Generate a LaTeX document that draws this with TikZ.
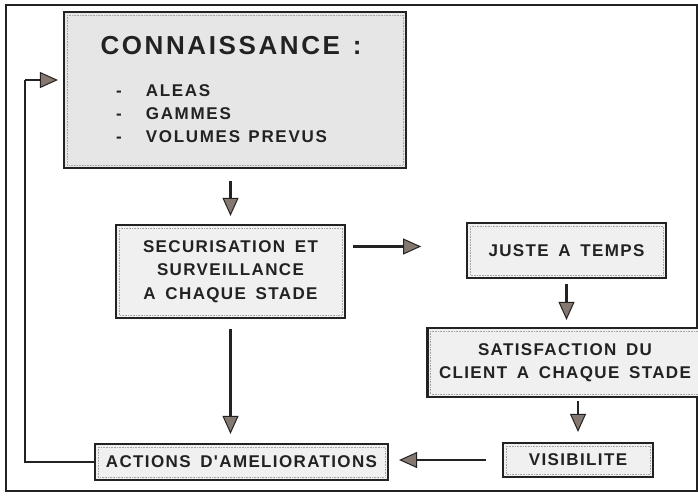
\documentclass[tikz,border=0pt]{standalone}
\usepackage{fontspec}
\usetikzlibrary{arrows.meta,calc}
\newfontfamily\dfont{Liberation Sans}[LetterSpace=8.0,WordSpace=1.6]
\newfontfamily\tfont{Liberation Sans}[LetterSpace=10.0,WordSpace=1.3]
\definecolor{ink}{HTML}{222222}
\definecolor{boxfill}{HTML}{F0F0F0}
\definecolor{connfill}{HTML}{E6E6E6}
\definecolor{headfill}{HTML}{857870}
\tikzset{
  box/.style={draw=ink, line width=2.2pt, fill=boxfill, inner sep=0pt,
    align=center, text=ink, font=\dfont\bfseries\fontsize{17}{23.5}\selectfont,
    path picture={\draw[densely dotted, gray!70, line width=0.6pt]
      ([shift={(3pt,-3pt)}]path picture bounding box.north west) rectangle
      ([shift={(-3pt,3pt)}]path picture bounding box.south east);}},
  arr/.style={draw=ink, line width=2.4pt,
    -{Triangle[length=18pt,width=16pt,fill=headfill,line width=1pt]}},
  fline/.style={draw=ink, line width=1.8pt},
  frame/.style={draw=ink, line width=1.6pt},
  label/.style={inner sep=0pt, text=ink}
}
\begin{document}
\begin{tikzpicture}[x=1pt,y=-1pt]
\clip (0,0) rectangle (698,496);
\fill[white] (0,0) rectangle (698,496);
\draw[frame] (6,5) rectangle (697,491);

\node[box, fill=connfill, minimum width=342pt, minimum height=156pt] (conn) at (235,90) {};
\node[label, font=\tfont\bfseries\fontsize{26}{30}\selectfont] (ctitle) at (231,46) {CONNAISSANCE :};
\node[label, anchor=north west, font=\tfont\bfseries\fontsize{17}{23}\selectfont] (clist) at (116,80)
  {\begin{tabular}{@{}l@{\hspace{24pt}}l@{}}- & ALEAS\\ - & GAMMES\\ - & VOLUMES PREVUS\end{tabular}};

\node[box, minimum width=229pt, minimum height=93pt] (secu) at (230.5,271.5)
  {SECURISATION  ET\\SURVEILLANCE\\A CHAQUE STADE};
\node[box, minimum width=199pt, minimum height=55pt] (juste) at (566.5,250.5) {JUSTE  A  TEMPS};
\node[box, minimum width=275pt, minimum height=69pt] (satis) at (565,362.5)
  {SATISFACTION  DU\\CLIENT  A  CHAQUE  STADE};
\node[box, minimum width=150pt, minimum height=34pt] (visi) at (578,460) {VISIBILITE};
\node[box, minimum width=293pt, minimum height=36pt] (act) at (241.5,462) {ACTIONS  D'AMELIORATIONS};

\draw[arr, shorten <=12pt, shorten >=8pt] (secu.north |- conn.south) -- (secu.north);
\draw[arr] ([xshift=7pt,yshift=25pt]secu.east) -- +(68,0);
\draw[arr, shorten <=5pt, shorten >=7pt] (juste.south) -- (juste.south |- satis.north);
\draw[arr, shorten <=3pt, shorten >=10pt] (visi.north |- satis.south) -- (visi.north);
\draw[arr, shorten <=16pt, shorten >=10pt] (visi.west) -- (act.east |- visi.west);
\draw[arr, shorten <=10pt, shorten >=9pt] (secu.south) -- (secu.south |- act.north);
\coordinate (fb1) at (25,462);
\coordinate (fb2) at (25,80);
\draw[fline] (act.west) -- (fb1) -- (fb2);
\draw[arr, shorten >=5pt] (fb2) -- (fb2 -| conn.west);
\end{tikzpicture}
\end{document}
